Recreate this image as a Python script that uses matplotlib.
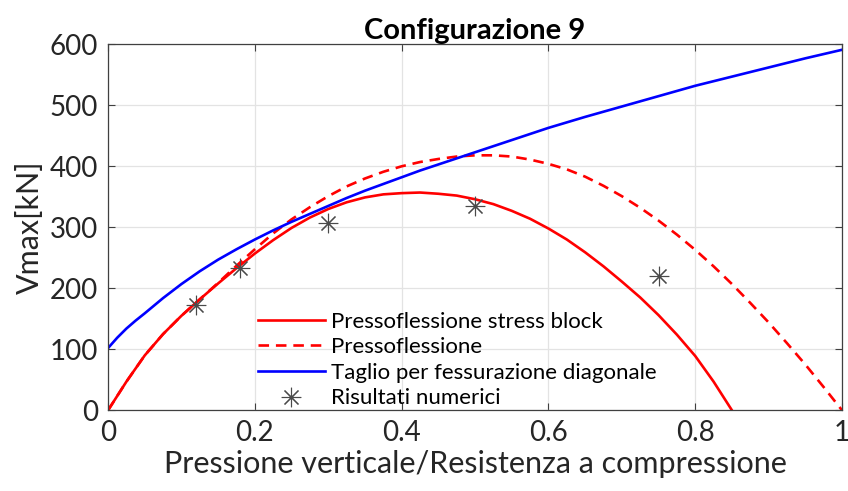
import matplotlib
matplotlib.use('Agg')
import matplotlib.pyplot as plt

# values
x_block = [0, 0.025, 0.05, 0.075, 0.1, 0.125, 0.15, 0.175, 0.2, 0.225, 0.25, 0.275, 0.3, 0.325,
           0.35, 0.375, 0.4, 0.425, 0.45, 0.475, 0.5, 0.525, 0.55, 0.575, 0.6, 0.625, 0.65,
           0.675, 0.7, 0.725, 0.75, 0.775, 0.8, 0.825, 0.85]
v_block = [0, 47, 90, 125, 155, 182, 208, 233, 257, 279, 299, 316, 330, 341,
           349, 354, 356, 357, 355, 352, 346, 338, 327, 314, 298, 280, 259,
           236, 211, 185, 156, 124, 89, 47, 0]

x_press = [0, 0.025, 0.05, 0.075, 0.1, 0.125, 0.15, 0.175, 0.2, 0.225, 0.25, 0.275, 0.3, 0.325,
           0.35, 0.375, 0.4, 0.425, 0.45, 0.475, 0.5, 0.525, 0.55, 0.575, 0.6, 0.625, 0.65,
           0.675, 0.7, 0.725, 0.75, 0.775, 0.8, 0.825, 0.85, 0.875, 0.9, 0.925, 0.95, 0.975, 1.0]
v_press = [0, 47, 90, 125, 155, 182, 209, 237, 264, 290, 313, 333, 351, 367,
           380, 391, 400, 407, 412, 416, 418, 418, 416, 411, 404, 395, 383,
           368, 351, 332, 311, 288, 263, 236, 207, 176, 144, 110, 75, 38, 0]

x_taglio = [0, 0.0125, 0.025, 0.0375, 0.05, 0.075, 0.1, 0.125, 0.15, 0.175, 0.2, 0.225, 0.25,
            0.275, 0.3, 0.325, 0.35, 0.375, 0.4, 0.425, 0.45, 0.475, 0.5, 0.55, 0.6, 0.65,
            0.7, 0.75, 0.8, 0.85, 0.9, 0.95, 1.0]
v_taglio = [102, 119, 134, 147, 159, 184, 207, 228, 247, 264, 280, 295, 309,
            322, 335, 348, 360, 371, 382, 393, 403, 413, 423, 443, 463, 481,
            498, 515, 532, 547, 562, 577, 591]

x_num = [0.12, 0.18, 0.30, 0.50, 0.75]
v_num = [173, 233, 307, 335, 220]

x_ticks = [0, 0.2, 0.4, 0.6, 0.8, 1]
x_ticklabels = ['0', '0.2', '0.4', '0.6', '0.8', '1']
y_ticks = [0, 100, 200, 300, 400, 500, 600]

plt.rcParams['font.family'] = ['Lato', 'DejaVu Sans']

fig = plt.figure(figsize=(8.48, 4.91), dpi=100)
ax = fig.add_axes([0.1274, 0.1643, 0.8656, 0.7455])

ax.plot(x_block, v_block, color='#ff0000', lw=1.9, label='Pressoflessione stress block')
ax.plot(x_press, v_press, color='#ff0000', lw=1.9, ls=(0, (4, 2.6)), label='Pressoflessione')
ax.plot(x_taglio, v_taglio, color='#0000ff', lw=1.9, label='Taglio per fessurazione diagonale')
ax.plot(x_num, v_num, ls='none', marker=(8, 2, 0), ms=14, mew=0.8, color='#4a4a4a',
        label='Risultati numerici')

ax.set_xlim(0, 1)
ax.set_ylim(0, 600)
ax.set_xticks(x_ticks)
ax.set_xticklabels(x_ticklabels)
ax.set_yticks(y_ticks)
ax.grid(True, color='#e3e3e3', lw=0.9)
ax.set_axisbelow(True)
ax.tick_params(direction='in', top=True, right=True, length=5, width=0.8,
               colors='#404040', labelcolor='#262626', labelsize=20, pad=7)
for s in ax.spines.values():
    s.set_color('#404040')
    s.set_linewidth(0.9)

ax.set_title('Configurazione 9', fontsize=21, fontweight='bold', pad=4)
ax.set_xlabel('Pressione verticale/Resistenza a compressione', fontsize=22, color='#262626', labelpad=3)
ax.set_ylabel('Vmax[kN]', fontsize=22, color='#262626', labelpad=4)

ax.legend(loc='lower left', bbox_to_anchor=(0.183, -0.037), frameon=False, fontsize=16,
          handlelength=3.0, handletextpad=0.3, labelspacing=0.25, borderpad=0.2)

fig.savefig('out.png', dpi=100)
